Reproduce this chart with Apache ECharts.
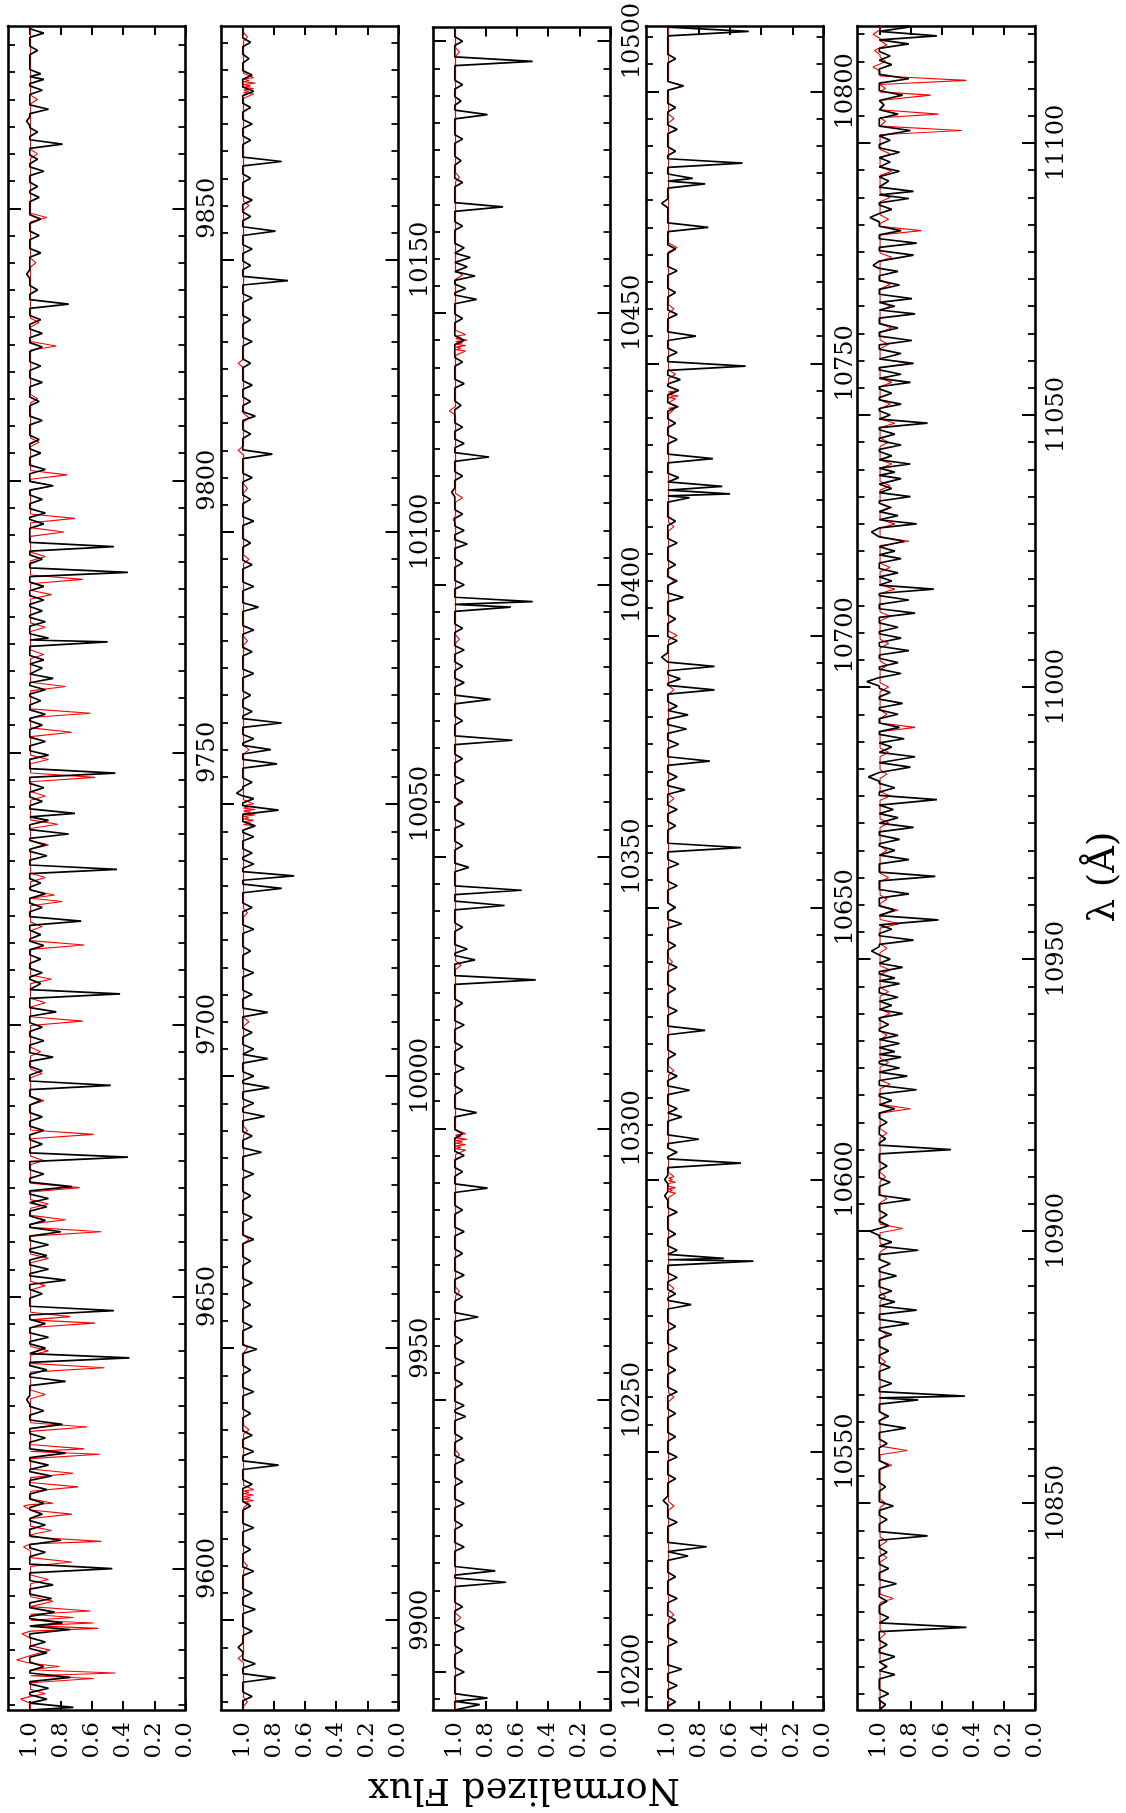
<!DOCTYPE html>
<html lang="en">

<head>
  <meta charset="UTF-8" />
  <title>Normalized spectrum</title>
  <script src="https://cdn.jsdelivr.net/npm/echarts@6/dist/echarts.min.js"></script>
  <style>
    body,
    html {
      margin: 0;
      padding: 0;
      width: 100%;
      height: 100%;
      overflow: hidden;
      background: #fff;
    }

    #main {
      width: 1126px;
      height: 1813px;
    }
  </style>
</head>

<body>
  <div id="main"></div>
</body>
<script>
  // wavelength span of each panel (Angstrom), bottom -> top
  var panelRanges = [[9574, 9883.5], [9883.5, 10193], [10193, 10502.5], [10502.5, 10812], [10812, 11121.5]];
  var panelLabels = [
    [9600, 9650, 9700, 9750, 9800, 9850],
    [9900, 9950, 10000, 10050, 10100, 10150],
    [10200, 10250, 10300, 10350, 10400, 10450, 10500],
    [10550, 10600, 10650, 10700, 10750, 10800],
    [10850, 10900, 10950, 11000, 11050, 11100]
  ];
  var fluxTicks = [0, 0.2, 0.4, 0.6, 0.8, 1.0];

  // absorption dips: [wavelength, flux at line core]
  // black = observed, red = model
  var obsP1 = [[9882.2, 0.91], [9879, 0.95], [9874.7, 0.93], [9873.7, 0.91], [9871.7, 0.92], [9868.2, 0.88], [9866, 1.02], [9864, 0.95],
    [9861.8, 0.79], [9859, 0.95], [9856.8, 0.91], [9854, 0.95], [9852, 0.94], [9848, 0.93], [9845, 0.94], [9841.8, 0.93], [9837.9, 1.02],
    [9835, 0.95], [9832.4, 0.75], [9829.5, 0.93], [9827, 0.92], [9824.5, 0.92], [9821, 0.93], [9818, 0.92], [9814.5, 0.94], [9811, 0.92],
    [9807.5, 0.94], [9805, 0.93], [9802, 0.90], [9799, 0.85], [9796.5, 0.92], [9794, 0.90], [9792, 0.91], [9787.8, 0.46], [9785.5, 0.92],
    [9783.1, 0.37], [9780.5, 0.91], [9778, 0.91], [9776, 0.92], [9774, 0.90], [9771, 0.88], [9770.3, 0.50], [9767, 0.91], [9765.5, 0.92],
    [9763.6, 0.85], [9761.5, 0.90], [9759.5, 0.93], [9757, 0.90], [9755, 0.92], [9752, 0.90], [9749.5, 0.88], [9746.2, 0.45], [9743.5, 0.91],
    [9741, 0.92], [9738.8, 0.71], [9737.5, 0.88], [9735, 0.75], [9733, 0.90], [9731, 0.89], [9728.5, 0.44], [9726, 0.93], [9724, 0.90],
    [9721.5, 0.92], [9719, 0.67], [9716.5, 0.93], [9714.5, 0.91], [9712, 0.93], [9709.5, 0.92], [9707.5, 0.93], [9705.6, 0.42], [9702.3, 0.83],
    [9699.5, 0.92], [9697, 0.91], [9694, 0.85], [9691.5, 0.92], [9688.8, 0.48], [9686, 0.93], [9683, 0.92], [9680.5, 0.91], [9678, 0.92],
    [9675.6, 0.37], [9672.5, 0.91], [9670.2, 0.73], [9668, 0.88], [9666.5, 0.89], [9664, 0.90], [9661.9, 0.80], [9659.5, 0.88], [9657.5, 0.89],
    [9655, 0.88], [9653, 0.77], [9650.5, 0.92], [9647.4, 0.46], [9645, 0.90], [9642.5, 0.88], [9640.5, 0.90], [9638.7, 0.36], [9636.5, 0.89],
    [9634.4, 0.77], [9631, 1.02], [9629, 0.91], [9626.5, 0.79], [9624, 0.90], [9621.2, 0.77], [9619, 0.88], [9617, 0.86], [9614.5, 0.89],
    [9612, 0.91], [9610, 0.92], [9608, 0.90], [9605.2, 0.80], [9603, 0.90], [9600, 0.47], [9597, 0.85], [9594.5, 0.86], [9592, 0.84],
    [9590, 0.79], [9588.8, 0.74], [9586.5, 0.90], [9584.5, 0.89], [9582, 0.91], [9580, 0.74], [9578, 0.88], [9576, 0.89], [9574.5, 0.72]];
  var modP1 = [[9870, 0.95], [9860, 0.95], [9848.3, 0.89], [9840, 0.96], [9829, 0.94], [9824.7, 0.83], [9815, 0.95], [9807, 0.94],
    [9801, 0.76], [9799, 0.85], [9793, 0.71], [9790.5, 0.78], [9786, 0.90], [9781.8, 0.66], [9779, 0.86], [9773, 0.90], [9768, 0.91],
    [9762.1, 0.77], [9757.2, 0.61], [9753.7, 0.73], [9748.7, 0.88], [9745.4, 0.58], [9742, 0.90], [9736.8, 0.82], [9733, 0.88],
    [9727, 0.90], [9723.8, 0.84], [9722.6, 0.79], [9718, 0.92], [9714.6, 0.65], [9708.3, 0.86], [9704, 0.90], [9700.6, 0.66],
    [9695, 0.93], [9691, 0.92], [9686, 0.91], [9679.8, 0.59], [9675, 0.91], [9670, 0.68], [9667, 0.88], [9664.1, 0.77], [9661.9, 0.54],
    [9657, 0.88], [9652, 0.90], [9646.3, 0.74], [9645.1, 0.58], [9640, 0.88], [9636.9, 0.52], [9632, 0.90], [9626, 0.63], [9622, 0.65],
    [9621, 0.55], [9617.5, 0.72], [9615, 0.69], [9612, 0.85], [9611.5, 1.04], [9610, 0.73], [9607, 0.86], [9605, 0.54], [9604, 1.04],
    [9601.2, 0.73], [9598, 0.88], [9594, 0.85], [9592.2, 0.61], [9591, 0.72], [9590, 0.59], [9589, 0.56], [9588, 1.05], [9585, 0.87],
    [9583.2, 1.085], [9582, 0.81], [9580.8, 0.45], [9579.8, 0.59], [9577, 0.90], [9576, 1.06]];

  var obsP2 = [[10190, 0.95], [10187, 0.96], [10184, 0.94], [10181, 0.93], [10178, 0.95], [10175, 0.94], [10172, 0.95], [10168.1, 0.75],
    [10165, 0.95], [10161, 0.94], [10158, 0.95], [10155.3, 0.79], [10152, 0.94], [10149, 0.95], [10146.2, 0.71], [10143, 0.94], [10139, 0.95],
    [10135, 0.94], [10131, 0.95], [10127, 0.94], [10124, 0.95], [10121.3, 0.92], [10118, 0.95], [10114.3, 0.81], [10110, 0.94], [10106, 0.95],
    [10102, 0.93], [10098, 0.95], [10094, 0.94], [10090, 0.93], [10086.2, 0.90], [10082, 0.93], [10078, 0.94], [10074, 0.93], [10070, 0.95],
    [10067, 0.94], [10064.9, 0.75], [10062, 0.93], [10060, 0.82], [10057.4, 0.78], [10054, 0.94], [10052, 1.04], [10051, 0.93], [10048.9, 0.77],
    [10046, 0.92], [10044, 0.93], [10041, 0.94], [10039, 0.93], [10036.8, 0.67], [10034.5, 0.75], [10031, 0.94], [10027, 0.93], [10023, 0.95],
    [10019, 0.93], [10015, 0.94], [10011.7, 0.84], [10008, 0.94], [10005, 0.93], [10003.2, 0.84], [10000, 0.93], [9997.9, 0.83], [9995, 0.93],
    [9992.6, 0.86], [9989, 0.94], [9986, 0.88], [9982, 0.93], [9978, 0.95], [9974, 0.94], [9970, 0.93], [9966, 0.95], [9962, 0.94],
    [9958, 0.95], [9954, 0.94], [9949.8, 0.91], [9946, 0.95], [9942, 0.93], [9938, 0.95], [9934, 0.94], [9931, 0.93], [9928.5, 0.77],
    [9925, 0.94], [9921, 0.95], [9917, 0.93], [9913, 0.95], [9909, 0.93], [9905, 0.94], [9902, 0.92], [9898, 0.94], [9895, 1.03],
    [9892, 0.92], [9889.4, 0.79], [9886, 0.94]];
  var modP2 = [[10191, 0.97], [10183.5, 0.93], [10183, 0.96], [10182.5, 0.92], [10182, 0.95], [10181.5, 0.93], [10181, 0.96], [10180.5, 0.93],
    [10160, 0.96], [10131, 1.03], [10121, 0.96], [10115, 1.03], [10108, 0.97], [10095, 0.96], [10080, 0.97], [10060, 0.96],
    [10050, 0.93], [10049.5, 0.96], [10049, 0.92], [10048.5, 0.95], [10048, 0.92], [10047.5, 0.96], [10047, 0.93], [10046.5, 0.95],
    [10046, 0.93], [10030, 0.97], [10010, 0.96], [9990, 0.97], [9970, 0.96], [9950, 0.97], [9935, 0.96], [9924, 0.93], [9923.5, 0.96],
    [9923, 0.93], [9922.5, 0.95], [9922, 0.93], [9921.5, 0.96], [9910, 0.97], [9893, 1.03], [9885, 0.97]];

  var obsP3 = [[10500, 0.95], [10496.3, 0.50], [10492, 0.95], [10489, 0.96], [10486.5, 0.79], [10482, 0.95], [10478, 0.96], [10474, 0.95],
    [10469.5, 0.69], [10466, 0.95], [10462, 0.94], [10460.2, 0.90], [10458.5, 0.92], [10456.8, 0.87], [10454.5, 0.93], [10452.5, 0.86],
    [10449, 0.95], [10445, 0.94], [10441, 0.95], [10437, 0.94], [10433, 0.96], [10429, 0.95], [10426, 0.94], [10423.5, 0.78], [10420, 0.95],
    [10417, 1.02], [10413, 0.95], [10410, 0.94], [10407.5, 0.92], [10404, 0.95], [10400, 0.94], [10396.9, 0.50], [10395.9, 0.64],
    [10392, 0.95], [10388, 0.94], [10385, 0.95], [10382, 0.94], [10378.9, 0.77], [10375, 0.95], [10371.4, 0.63], [10368, 0.95],
    [10364, 0.94], [10360, 0.95], [10356, 0.94], [10352, 0.95], [10348, 0.91], [10343.8, 0.57], [10341, 0.68], [10337, 0.95], [10333, 0.92],
    [10331, 0.87], [10327.3, 0.48], [10323, 0.95], [10319, 0.94], [10315, 0.95], [10311, 0.94], [10307, 0.95], [10302.9, 0.86], [10299, 0.95],
    [10295, 0.94], [10292, 0.95], [10289, 0.79], [10285, 0.95], [10281, 0.94], [10277, 0.95], [10273, 0.94], [10269, 0.95], [10265.3, 0.85],
    [10261, 0.95], [10257, 0.94], [10253, 0.95], [10249, 0.94], [10247, 0.93], [10243, 0.95], [10239, 0.94], [10235, 0.95], [10231, 0.94],
    [10227, 0.95], [10223, 0.94], [10218.6, 0.74], [10216.5, 0.67], [10212, 0.95], [10208, 0.94], [10204, 0.95], [10200, 0.94],
    [10195.2, 0.79], [10194, 0.84]];
  var modP3 = [[10498, 0.97], [10475, 0.97], [10457, 0.95], [10446, 0.93], [10445.5, 0.96], [10445, 0.92], [10444.5, 0.95], [10444, 0.93],
    [10443.5, 0.96], [10443, 0.93], [10432, 1.035], [10416, 0.95], [10412, 1.01], [10390, 0.97], [10360, 0.97], [10330, 0.96],
    [10299, 0.93], [10298.5, 0.96], [10298, 0.92], [10297.5, 0.95], [10297, 0.93], [10296.5, 0.96], [10296, 0.93], [10270, 0.97],
    [10240, 0.97], [10210, 0.96]];

  var obsP4 = [[10811, 0.48], [10806, 0.95], [10801, 0.90], [10797, 0.95], [10793, 0.94], [10789, 0.95], [10786.8, 0.52], [10784, 0.84],
    [10783, 0.76], [10779.4, 1.04], [10775, 0.74], [10771, 0.95], [10767, 0.94], [10763, 0.95], [10759, 0.94], [10755, 0.82], [10752, 0.94],
    [10749.5, 0.50], [10747, 0.92], [10745, 0.93], [10742, 0.94], [10739, 0.95], [10736, 0.94], [10732.5, 0.71], [10729, 0.93],
    [10727.4, 0.65], [10726, 0.60], [10725.3, 0.86], [10721, 0.95], [10717, 0.94], [10713, 0.95], [10710, 0.94], [10707, 0.90], [10703, 0.95],
    [10699, 0.94], [10696, 1.04], [10694.3, 0.70], [10692, 0.92], [10690, 0.70], [10687, 0.94], [10685.4, 0.87], [10682.8, 0.88],
    [10680, 0.93], [10676.9, 0.73], [10674, 0.94], [10671.6, 0.89], [10668, 0.94], [10665, 0.95], [10661, 0.53], [10658, 0.93],
    [10654, 0.94], [10650, 0.95], [10647, 0.91], [10643, 0.95], [10639, 0.94], [10635, 0.95], [10631, 0.94], [10627.4, 0.76], [10623, 0.95],
    [10619, 0.94], [10616.4, 0.86], [10613, 0.94], [10611.5, 0.91], [10607.4, 0.80], [10605, 0.94], [10603, 0.53], [10600, 1.02],
    [10597, 1.02], [10594, 0.94], [10590, 0.95], [10587, 0.94], [10585.5, 0.64], [10585, 0.45], [10582, 0.94], [10579, 0.95], [10577, 0.85],
    [10573, 0.95], [10569, 0.94], [10565, 0.95], [10561, 0.94], [10557, 0.95], [10552.7, 0.95], [10549, 0.94], [10545, 0.95], [10541, 1.03],
    [10537, 0.94], [10532.5, 0.75], [10530.8, 0.87], [10527, 0.95], [10523, 0.94], [10519, 0.95], [10515, 0.94], [10510, 0.91],
    [10507, 0.94], [10504, 0.95]];
  var modP4 = [[10801, 0.90], [10795, 0.96], [10771.3, 0.94], [10760, 0.96], [10748, 0.95], [10745, 0.93], [10744.5, 0.96], [10744, 0.93],
    [10743.5, 0.95], [10742, 0.93], [10741.5, 0.96], [10720, 0.96], [10710, 0.96], [10700, 0.94], [10690, 0.96], [10670, 0.96],
    [10650, 0.96], [10640, 0.97], [10620, 0.96], [10605, 0.95], [10600.5, 0.96], [10600, 0.97], [10599.5, 0.95], [10599, 0.99],
    [10598.5, 0.95], [10598, 0.97], [10597.5, 0.95], [10580, 0.96], [10560, 0.96], [10540, 0.96], [10520, 0.96]];

  var obsP5 = [[11121.4, 0.79], [11119.7, 0.63], [11118.2, 0.81], [11116, 0.93], [11114.4, 0.92], [11111.8, 0.81], [11108.8, 0.85],
    [11107, 0.97], [11105.3, 0.88], [11102.3, 0.80], [11100.5, 0.93], [11098.3, 0.87], [11096.5, 0.93], [11094.8, 0.87], [11093, 0.94],
    [11091.1, 0.78], [11089.8, 0.81], [11087.8, 0.92], [11086.3, 1.06], [11083.9, 0.86], [11081.6, 0.76], [11079.4, 0.78], [11077.5, 1.04],
    [11076.4, 0.88], [11073.9, 0.87], [11071.4, 0.79], [11070, 0.90], [11068.6, 0.77], [11066, 0.88], [11063.7, 0.79], [11061.3, 0.86],
    [11059.5, 0.78], [11057.5, 0.86], [11056, 0.80], [11054, 0.92], [11052, 0.86], [11050, 0.93], [11048.5, 0.69], [11046.5, 0.90],
    [11044.5, 0.86], [11042.5, 0.92], [11041, 0.80], [11039.5, 0.90], [11038.3, 0.86], [11036.5, 0.92], [11035, 0.80], [11033, 0.93],
    [11031.5, 0.88], [11030, 0.76], [11028.5, 1.05], [11026.8, 0.84], [11025, 0.90], [11023.6, 0.86], [11021, 0.88], [11019.5, 0.92],
    [11018, 0.65], [11016, 0.81], [11013.6, 0.77], [11011, 0.88], [11009, 0.86], [11006.7, 0.81], [11004.5, 0.88], [11002.5, 0.86],
    [11001, 1.08], [10999, 0.93], [10997, 0.85], [10995, 0.88], [10992.6, 0.87], [10990.5, 0.84], [10989, 0.92], [10987.2, 0.77],
    [10985.3, 0.80], [10983.5, 1.07], [10981.5, 0.90], [10979.3, 0.63], [10977.5, 0.91], [10976, 0.88], [10974.2, 0.78], [10972, 0.87],
    [10970, 0.90], [10968.3, 0.81], [10965.2, 0.64], [10962, 0.81], [10959, 0.90], [10957.2, 0.62], [10955.5, 0.92], [10953.5, 0.78],
    [10951.5, 1.05], [10950, 0.93], [10948.5, 0.85], [10946.5, 0.90], [10945.5, 0.87], [10943, 0.88], [10941.5, 0.92], [10940, 0.85],
    [10938, 0.94], [10936, 0.88], [10934.5, 0.87], [10933, 0.90], [10932, 0.86], [10930, 0.87], [10928.5, 0.82], [10926, 0.76],
    [10924, 0.92], [10922.5, 0.90], [10920, 0.95], [10917, 0.96], [10915, 0.54], [10912, 0.95], [10909, 0.93], [10905.8, 0.80],
    [10903, 0.95], [10901, 0.94], [10900, 1.06], [10898, 0.92], [10896.5, 0.75], [10894, 0.93], [10891.8, 0.89], [10889, 0.92],
    [10887, 0.90], [10885.5, 0.76], [10883, 0.81], [10881, 0.92], [10878, 0.94], [10875, 0.93], [10872, 0.92], [10869.7, 0.45],
    [10869, 0.75], [10866, 0.94], [10863.8, 0.83], [10861, 0.95], [10857, 0.94], [10853, 0.96], [10849.5, 0.91], [10847, 0.95],
    [10844, 0.69], [10841, 0.95], [10838, 0.94], [10835.2, 0.89], [10832, 0.95], [10829, 0.94], [10827.2, 0.44], [10824, 0.95],
    [10821.8, 0.90], [10820, 0.95], [10818.5, 0.90], [10815, 0.94], [10813, 0.96]];
  var modP5 = [[11120, 1.04], [11118, 0.95], [11117, 1.03], [11115, 0.96], [11114, 1.04], [11111.5, 0.44], [11110, 0.96], [11108.8, 0.67],
    [11107, 0.97], [11105.3, 0.62], [11104, 0.96], [11102.3, 0.47], [11098, 0.93], [11094.8, 0.92], [11090, 0.93], [11086, 0.94],
    [11083.9, 0.73], [11079, 0.92], [11074, 0.93], [11070, 0.93], [11066, 0.92], [11063, 0.94], [11059.5, 0.80], [11056, 0.92],
    [11052, 0.93], [11048.5, 0.90], [11045, 0.94], [11041, 0.92], [11037, 0.93], [11033, 0.92], [11030, 0.90], [11026.8, 0.81],
    [11022, 0.93], [11018, 0.90], [11013, 0.93], [11008, 0.94], [11004, 0.95], [11000, 0.94], [10995, 0.95], [10992.6, 0.77],
    [10988, 0.94], [10984, 0.95], [10980, 0.93], [10975, 0.94], [10970, 0.95], [10965, 0.94], [10961, 0.95], [10959, 0.88],
    [10956.5, 0.87], [10952, 0.95], [10948, 0.93], [10944, 0.94], [10940, 0.93], [10936, 0.95], [10931, 0.94], [10927, 0.93],
    [10922.5, 0.80], [10918, 0.95], [10910, 0.96], [10906, 0.95], [10900.5, 0.85], [10897, 0.95], [10894, 0.93], [10888, 0.96],
    [10881, 0.95], [10876, 0.96], [10866, 0.96], [10859.7, 0.82], [10857, 0.92], [10850, 0.96], [10843, 0.95], [10840, 0.95],
    [10832.5, 0.91], [10826, 0.96], [10820, 0.96]];

  var obsPanels = [obsP1, obsP2, obsP3, obsP4, obsP5];
  var modPanels = [modP1, modP2, modP3, modP4, modP5];

  // turn a list of line cores into a polyline [flux, wavelength] with continuum shoulders
  function buildSpectrum(dips, range, cont, hw) {
    var s = dips.slice().sort(function (a, b) { return a[0] - b[0]; });
    var pts = [[cont, range[0]]];
    for (var i = 0; i < s.length; i++) {
      var lam = s[i][0];
      var lo = i > 0 ? Math.max(lam - hw, (lam + s[i - 1][0]) / 2) : lam - hw;
      var hi = i < s.length - 1 ? Math.min(lam + hw, (lam + s[i + 1][0]) / 2) : lam + hw;
      if (pts[pts.length - 1][1] < lo) pts.push([cont, lo]);
      pts.push([s[i][1], lam]);
      pts.push([cont, hi]);
    }
    pts.push([cont, range[1]]);
    return pts;
  }

  var gridLefts = [8, 221, 433, 646, 857.5];
  var gridWidth = 177.5;
  var serif = '"DejaVu Serif", "Liberation Serif", serif';

  var grids = [], xAxes = [], yAxes = [], series = [];

  gridLefts.forEach(function (left, i) {
    var range = panelRanges[i];
    var minor = [];
    for (var v = Math.ceil(range[0] / 5) * 5; v <= range[1]; v += 5) minor.push(v);

    grids.push({ left: left, width: gridWidth, top: 26, height: 1684 });

    var border = { show: true, lineStyle: { color: '#000', width: 2.6 } };
    // flux axes (bottom with labels, top ticks only)
    xAxes.push({
      type: 'value', gridIndex: i, position: 'bottom', inverse: true, min: 0, max: 1.14,
      axisLine: border,
      axisTick: { show: true, inside: true, length: 9, customValues: fluxTicks, lineStyle: { color: '#000', width: 2 } },
      axisLabel: {
        show: true, rotate: 90, margin: 12, customValues: fluxTicks,
        formatter: function (val) { return val.toFixed(1); },
        fontFamily: serif, fontSize: 23, color: '#000'
      },
      splitLine: { show: false }
    });
    xAxes.push({
      type: 'value', gridIndex: i, position: 'top', inverse: true, min: 0, max: 1.14,
      axisLine: border,
      axisTick: { show: true, inside: true, length: 9, customValues: fluxTicks, lineStyle: { color: '#000', width: 2 } },
      axisLabel: { show: false },
      splitLine: { show: false }
    });
    // wavelength axes: right major (labels), right minor, left major, left minor
    ['right', 'left'].forEach(function (pos) {
      yAxes.push({
        type: 'value', gridIndex: i, position: pos, min: range[0], max: range[1],
        axisLine: border,
        axisTick: { show: true, inside: true, length: 13, customValues: panelLabels[i], lineStyle: { color: '#000', width: 2 } },
        axisLabel: {
          show: pos === 'right', rotate: 90, margin: 10, customValues: panelLabels[i],
          formatter: function (val) { return String(val); },
          fontFamily: serif, fontSize: 24, color: '#000'
        },
        splitLine: { show: false }
      });
      yAxes.push({
        type: 'value', gridIndex: i, position: pos, min: range[0], max: range[1],
        axisLine: { show: false },
        axisTick: { show: true, inside: true, length: 7, customValues: minor, lineStyle: { color: '#000', width: 1.8 } },
        axisLabel: { show: false },
        splitLine: { show: false }
      });
    });

    series.push({
      type: 'line', xAxisIndex: 2 * i, yAxisIndex: 4 * i, showSymbol: false, silent: true,
      data: buildSpectrum(modPanels[i], range, 0.995, 0.8),
      lineStyle: { color: '#ff0000', width: 1.1 }, z: 2
    });
    series.push({
      type: 'line', xAxisIndex: 2 * i, yAxisIndex: 4 * i, showSymbol: false, silent: true,
      data: buildSpectrum(obsPanels[i], range, 1.0, 0.8),
      lineStyle: { color: '#000', width: 1.7 }, z: 3
    });
  });

  var chart = echarts.init(document.getElementById('main'));
  chart.setOption({
    backgroundColor: '#fff',
    animation: false,
    grid: grids,
    xAxis: xAxes,
    yAxis: yAxes,
    series: series,
    graphic: [{
      type: 'text', x: 524, y: 1789, rotation: Math.PI,
      style: { text: 'Normalized Flux', font: '37px "DejaVu Serif"', fill: '#000', align: 'center', verticalAlign: 'middle' }
    }, {
      type: 'text', x: 1104, y: 877, rotation: Math.PI / 2,
      style: { text: 'λ (Å)', font: '37px "DejaVu Serif"', fill: '#000', align: 'center', verticalAlign: 'middle' }
    }]
  });
</script>

</html>
